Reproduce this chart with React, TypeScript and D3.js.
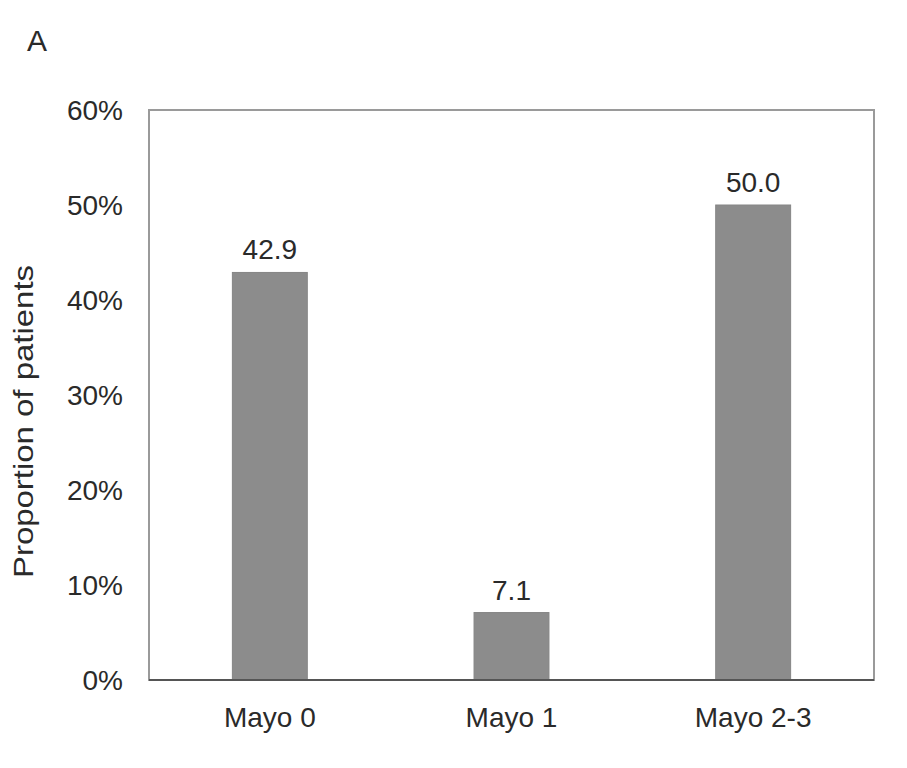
import React from "react";
import * as d3 from "d3";

const categories = ["Mayo 0", "Mayo 1", "Mayo 2-3"];
const values = [42.9, 7.1, 50.0];
const valueLabels = ["42.9", "7.1", "50.0"];
const yTicks = [0, 10, 20, 30, 40, 50, 60];
const yTitle = "Proportion of patients";
const panelLabel = "A";

const W = 907;
const H = 768;
const M = { left: 149, right: 874, top: 110, bottom: 680 };
const FONT = "'Liberation Sans', Arial, Helvetica, sans-serif";

export default function App() {
  const x = d3
    .scaleBand<string>()
    .domain(categories)
    .range([M.left, M.right])
    .paddingInner(0.69)
    .paddingOuter(0.345);
  const y = d3.scaleLinear().domain([0, 60]).range([M.bottom, M.top]);

  return (
    <svg
      width={W}
      height={H}
      style={{ position: "absolute", left: 0, top: 0, background: "#fff" }}
      fontFamily={FONT}
    >
      <rect x={0} y={0} width={W} height={H} fill="#fff" />
      <text x={27} y={51} fontSize={30} fill="#2a2a2a">
        {panelLabel}
      </text>
      {/* frame */}
      <rect
        x={M.left}
        y={M.top}
        width={M.right - M.left}
        height={M.bottom - M.top}
        fill="none"
        stroke="#9a9a9a"
        strokeWidth={2}
      />
      {/* bars */}
      {categories.map((c, i) => (
        <rect
          key={c}
          x={x(c)}
          y={y(values[i])}
          width={x.bandwidth()}
          height={y(0) - y(values[i])}
          fill="#8c8c8c"
          stroke="#858585"
          strokeWidth={1}
        />
      ))}
      {/* bottom axis */}
      <line
        x1={M.left}
        x2={M.right}
        y1={M.bottom}
        y2={M.bottom}
        stroke="#555"
        strokeWidth={2}
      />
      {/* value labels */}
      {categories.map((c, i) => (
        <text
          key={c + "v"}
          x={(x(c) as number) + x.bandwidth() / 2}
          y={y(values[i]) - 13}
          textAnchor="middle"
          fontSize={28}
          fill="#2a2a2a"
        >
          {valueLabels[i]}
        </text>
      ))}
      {/* category labels */}
      {categories.map((c) => (
        <text
          key={c + "c"}
          x={(x(c) as number) + x.bandwidth() / 2}
          y={727}
          textAnchor="middle"
          fontSize={28}
          fill="#2a2a2a"
        >
          {c}
        </text>
      ))}
      {/* y tick labels */}
      {yTicks.map((t) => (
        <text
          key={t}
          x={123}
          y={y(t)}
          dy="0.36em"
          textAnchor="end"
          fontSize={28}
          fill="#2a2a2a"
        >
          {t + "%"}
        </text>
      ))}
      {/* y title */}
      <text
        transform={`translate(33, ${(265 + 578) / 2}) rotate(-90)`}
        textAnchor="middle"
        fontSize={28}
        fill="#2a2a2a"
        textLength={313}
        lengthAdjust="spacingAndGlyphs"
      >
        {yTitle}
      </text>
    </svg>
  );
}
